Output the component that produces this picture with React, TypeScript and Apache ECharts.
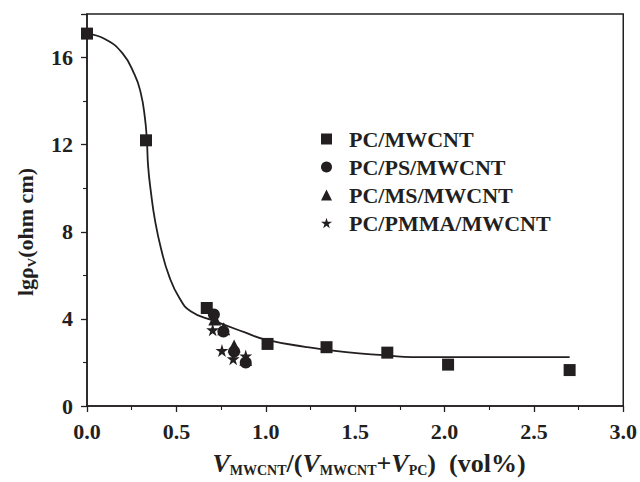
import React, { useEffect, useRef } from "react";
import * as echarts from "echarts";

const pcMwcnt: [number, number][] = [
  [0.0, 17.1], [0.33, 12.2], [0.67, 4.5], [1.01, 2.85], [1.34, 2.7], [1.68, 2.45], [2.02, 1.9], [2.7, 1.65],
];
const pcPsMwcnt: [number, number][] = [
  [0.71, 4.2], [0.763, 3.42], [0.823, 2.5], [0.888, 2.0],
];
const pcMsMwcnt: [number, number][] = [
  [0.715, 4.0], [0.765, 3.55], [0.823, 2.75], [0.888, 2.15],
];
const pcPmmaMwcnt: [number, number][] = [
  [0.703, 3.5], [0.755, 2.55], [0.818, 2.17], [0.888, 2.3],
];
const fitCurve: [number, number][] = [
  [0.0, 17.1], [0.1, 16.85], [0.198, 16.2], [0.267, 15.2], [0.3, 14.4], [0.323, 13.3],
  [0.335, 12.2], [0.342, 11.0], [0.358, 9.8], [0.38, 8.55], [0.415, 7.2], [0.46, 5.95],
  [0.517, 4.96], [0.58, 4.35], [0.7, 3.94], [0.88, 3.39], [1.0, 3.05], [1.22, 2.72],
  [1.45, 2.47], [1.68, 2.32], [1.815, 2.24], [2.7, 2.24],
];
const seriesNames = ["PC/MWCNT", "PC/PS/MWCNT", "PC/MS/MWCNT", "PC/PMMA/MWCNT"];

const STAR = "path://M50,0 L61,35 L98,35 L68,57 L79,91 L50,70 L21,91 L32,57 L2,35 L39,35 Z";
const INK = "#231f20";
const FONT = "Liberation Serif";

export default function App() {
  const ref = useRef<HTMLDivElement>(null);
  useEffect(() => {
    if (!ref.current) return;
    const chart = echarts.init(ref.current, undefined, { renderer: "svg" });
    const axisCommon = {
      axisLine: { show: true, lineStyle: { color: INK, width: 1.5 } },
      axisTick: { show: true, inside: false, length: 6, lineStyle: { color: INK, width: 1.3 } },
      minorTick: { show: true, splitNumber: 2, length: 4, lineStyle: { color: INK, width: 1.1 } },
      splitLine: { show: false },
      axisLabel: { color: INK, fontFamily: FONT, fontWeight: "bold", fontSize: 22 },
    };
    chart.setOption({
      animation: false,
      grid: { left: 87, width: 539, top: 14, height: 392, show: true, borderColor: INK, borderWidth: 1.5 },
      xAxis: {
        type: "value", min: 0, max: 3, interval: 0.5,
        ...axisCommon,
        axisLabel: { ...axisCommon.axisLabel, margin: 14, formatter: (v: number) => v.toFixed(1) },
      },
      yAxis: {
        type: "value", min: 0, max: 18, interval: 4,
        ...axisCommon,
        axisLabel: { ...axisCommon.axisLabel, margin: 14, showMaxLabel: false },
      },
      graphic: [
        {
          type: "text", x: 25, y: 232, rotation: Math.PI / 2,
          style: {
            text: "{a|lgρ}{s|V}{a|(ohm cm)}",
            align: "center", verticalAlign: "middle", fill: INK,
            rich: {
              a: { fontWeight: "bold", fontSize: 22, fill: INK, fontFamily: FONT },
              s: { fontWeight: "bold", fontSize: 13, fill: INK, fontFamily: FONT, padding: [12, 0, 0, 0] },
            },
          },
        },
        {
          type: "text", x: 369, y: 463,
          style: {
            text: "{i|V}{s|MWCNT}{n|/(}{i|V}{s|MWCNT}{n|+}{i|V}{s|PC}{n|)  (vol%)}",
            align: "center", verticalAlign: "middle", fill: INK,
            rich: {
              i: { fontStyle: "italic", fontWeight: "bold", fontSize: 26, fill: INK, fontFamily: FONT },
              n: { fontWeight: "bold", fontSize: 26, fill: INK, fontFamily: FONT },
              s: { fontWeight: "bold", fontSize: 14, fill: INK, fontFamily: FONT, padding: [15, 0, 0, 0] },
            },
          },
        },
      ],
      legend: {
        orient: "vertical", left: 316, top: 123, itemGap: 6, itemWidth: 11, itemHeight: 11,
        textStyle: { color: INK, fontFamily: FONT, fontWeight: "bold", fontSize: 22, padding: [0, 0, 0, 12] },
        data: [
          { name: seriesNames[0], icon: "rect" },
          { name: seriesNames[1], icon: "circle" },
          { name: seriesNames[2], icon: "triangle" },
          { name: seriesNames[3], icon: STAR },
        ],
      },
      series: [
        {
          type: "line", name: "fit", data: fitCurve, showSymbol: false, symbol: "none",
          smooth: 0.5,
          lineStyle: { color: INK, width: 1.8 }, z: 1,
        },
        { type: "scatter", name: seriesNames[0], data: pcMwcnt, symbol: "rect", symbolSize: 12, itemStyle: { color: INK, opacity: 1 } },
        { type: "scatter", name: seriesNames[1], data: pcPsMwcnt, symbol: "circle", symbolSize: 12, itemStyle: { color: INK, opacity: 1 } },
        { type: "scatter", name: seriesNames[2], data: pcMsMwcnt, symbol: "triangle", symbolSize: 13, itemStyle: { color: INK, opacity: 1 } },
        { type: "scatter", name: seriesNames[3], data: pcPmmaMwcnt, symbol: STAR, symbolSize: 13, itemStyle: { color: INK, opacity: 1 } },
      ],
    });
    return () => chart.dispose();
  }, []);
  return (
    <div
      ref={ref}
      style={{ position: "absolute", left: 0, top: 0, width: 640, height: 482, background: "#fff" }}
    />
  );
}
